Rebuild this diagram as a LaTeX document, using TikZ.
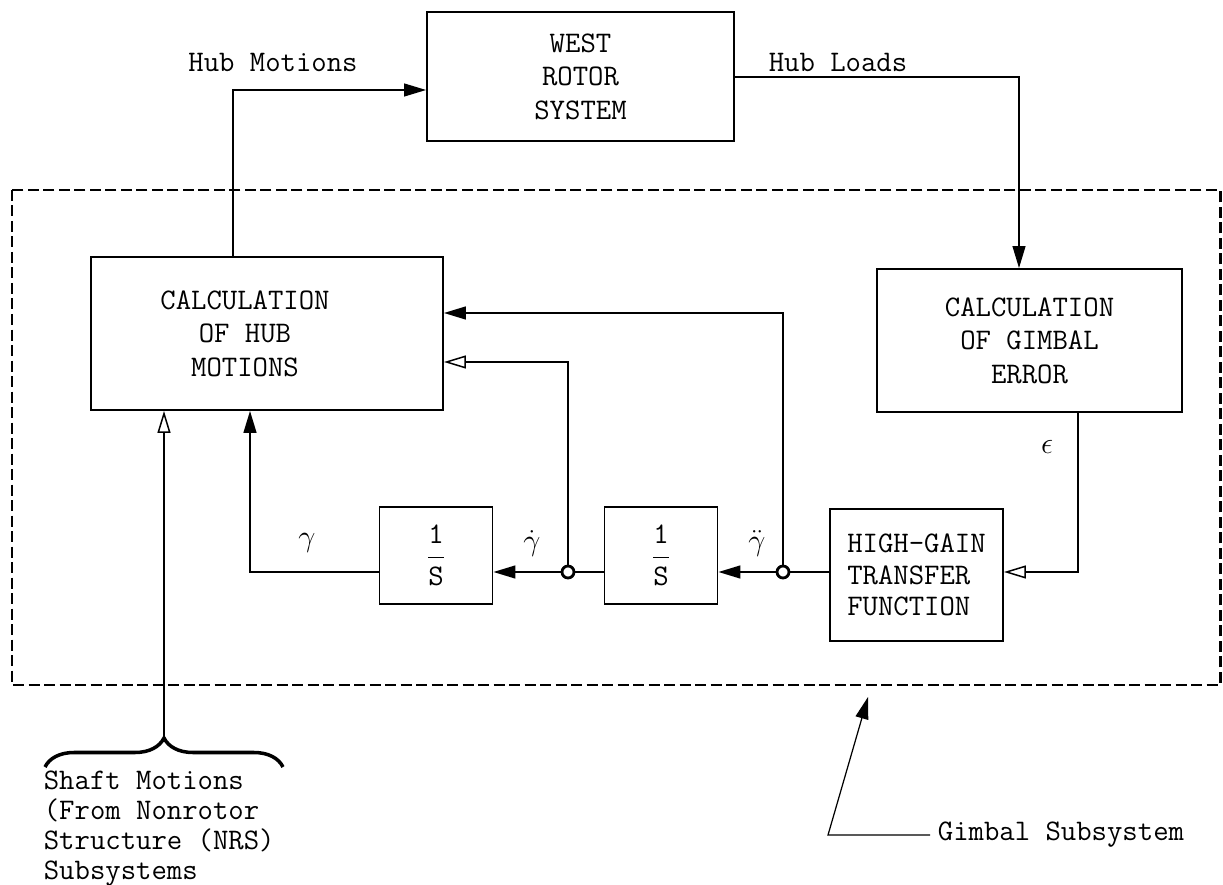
\documentclass[tikz,border=0pt]{standalone}
\usepackage{fontspec}
\usetikzlibrary{arrows.meta,decorations.pathreplacing}
\tikzset{
  >={Triangle[length=4.4mm,width=2.6mm]},
  block/.style={draw,line width=1.1pt,align=center,inner sep=0pt,
    font=\ttfamily\fontsize{17}{19}\selectfont},
  flow/.style={->,line width=0.85pt},
  open flow/.style={-{Triangle[open,fill=white,length=4.4mm,width=2.6mm]},line width=0.85pt},
  thin flow/.style={->,line width=0.7pt},
  tap/.style={circle,draw,line width=1.6pt,fill=white,minimum size=2.4mm,inner sep=0pt},
  frame/.style={line width=1.7pt,dash pattern=on 2.2mm off 0.9mm},
  tag/.style={font=\ttfamily\fontsize{17}{17}\selectfont,inner sep=1.5mm},
  sym/.style={font=\fontsize{18}{20}\selectfont,inner sep=0pt},
}

\begin{document}
\begin{tikzpicture}[x=0.2mm,y=-0.2mm]
  \useasboundingbox (0,0) rectangle (1223,885);

  % blocks
  \node[block,minimum width=61.4mm,minimum height=25.8mm] (rotor) at (580.5,76.5) {WEST\\ROTOR\\SYSTEM};
  \node[block,minimum width=70.4mm,minimum height=30.6mm,
    label={[name=calctext,align=center,font=\ttfamily\fontsize{17}{19}\selectfont,xshift=-4.4mm]center:CALCULATION\\OF HUB\\MOTIONS}] (calc) at (267,333.5) {};
  \node[block,minimum width=61mm,minimum height=28.6mm] (gimbal) at (1029.5,340.5) {CALCULATION\\OF GIMBAL\\ERROR};
  \node[block,minimum width=34.6mm,minimum height=26.4mm,align=left,font=\ttfamily\fontsize{17}{18}\selectfont] (gain) at (916.5,575) {HIGH-GAIN\\TRANSFER\\FUNCTION};
  \foreach \n/\x in {integA/436,integB/661}
    \node[block,minimum width=22.6mm,minimum height=19.5mm] (\n) at (\x,555.5) {$\displaystyle\frac{\hbox{\ttfamily 1}}{\hbox{\ttfamily S}}$};

  % gimbal subsystem boundary
  \draw[frame] (12,190) rectangle (1220,685);

  % branch points
  \node[tap] (tapA) at (568,572) {};
  \node[tap] (tapB) at (783,572) {};

  \coordinate (hmturn) at (233,90);
  \coordinate (hlturn) at (1019,77);
  \coordinate (epsturn) at (1078,572);
  \coordinate (gamturn) at (250,572);
  \coordinate (fbA) at (568,362);
  \coordinate (fbB) at (783,313);
  \coordinate (brtip) at (164,738);

  % signals
  \draw[thin flow] (calc.north -| hmturn) -- (hmturn) -- (rotor.west |- hmturn);
  \draw[thin flow] (rotor.east |- hlturn) -- (hlturn) -- (gimbal.north -| hlturn);
  \draw[open flow] (gimbal.south -| epsturn) -- (epsturn) -- (gain.east |- epsturn);
  \draw[line width=0.85pt] (gain.west |- tapB) -- (tapB);
  \draw[flow] (tapB) -- (integB.east |- tapB);
  \draw[line width=0.85pt] (integB.west |- tapA) -- (tapA);
  \draw[flow] (tapA) -- (integA.east |- tapA);
  \draw[flow] (integA.west |- gamturn) -- (gamturn) -- (calc.south -| gamturn);
  \draw[open flow] (tapA) -- (fbA) -- (calc.east |- fbA);
  \draw[flow] (tapB) -- (fbB) -- (calc.east |- fbB);

  % shaft motions input
  \draw[line width=2pt,decorate,decoration={brace,amplitude=5.8mm}] (45,767) -- (283,767);
  \draw[open flow] (brtip) -- (calc.south -| brtip);
  \node[tag,anchor=north west,align=left] (shaft) at (36,763) {Shaft Motions\\(From Nonrotor\\Structure (NRS)\\Subsystems};

  % labels
  \node[tag] (hmlab) at (273,62) {Hub Motions};
  \node[tag] (hllab) at (838,62) {Hub Loads};
  \foreach \t/\x [count=\i] in {{\gamma}/307,{\dot{\gamma}}/532,{\ddot{\gamma}}/757}
    \node[sym] (g\i) at (\x,543) {$\t$};
  \node[sym] (eps) at (1047,447) {$\epsilon$};

  % pointer to the boundary
  \node[tag,anchor=west] (gimlab) at (930,835) {Gimbal Subsystem};
  \coordinate (ptcorner) at (828,835);
  \coordinate (pttip) at (868,697);
  \draw[thin flow] (gimlab.west) -- (ptcorner) -- (pttip);
\end{tikzpicture}
\end{document}
